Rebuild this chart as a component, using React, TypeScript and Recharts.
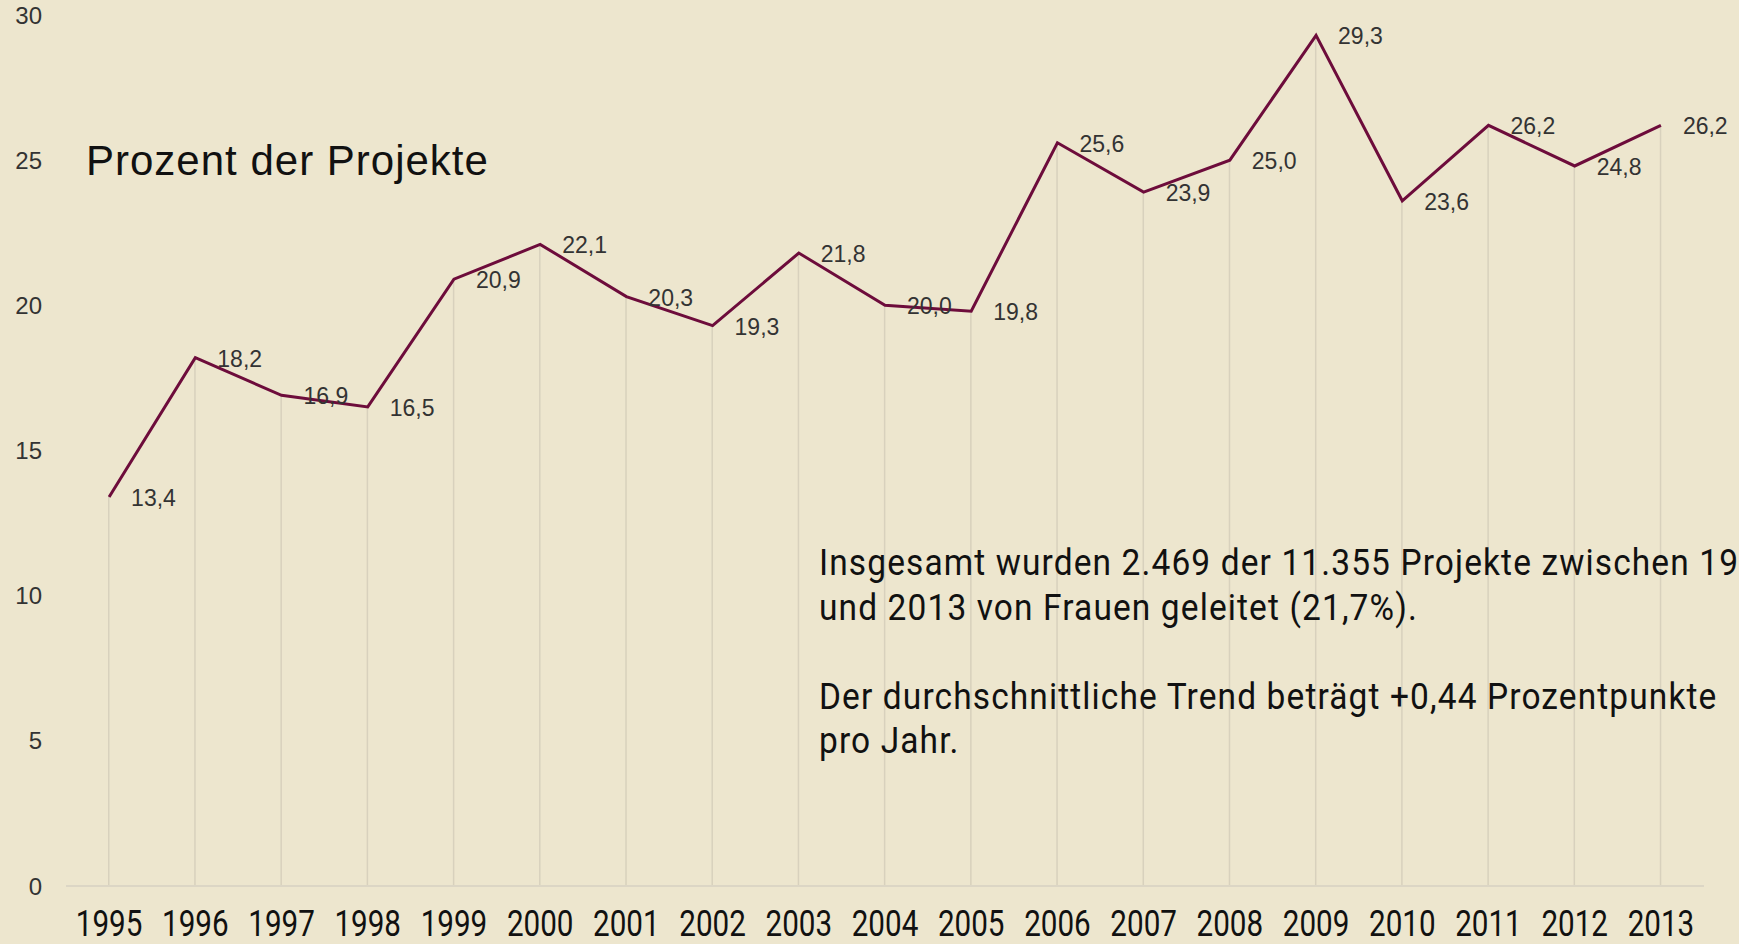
import { ComposedChart, Line, Bar, XAxis, YAxis, LabelList } from 'recharts';

const years = ['1995', '1996', '1997', '1998', '1999', '2000', '2001', '2002', '2003', '2004',
    '2005', '2006', '2007', '2008', '2009', '2010', '2011', '2012', '2013'];
const shares = [13.4, 18.2, 16.9, 16.5, 20.9, 22.1, 20.3, 19.3, 21.8, 20.0,
    19.8, 25.6, 23.9, 25.0, 29.3, 23.6, 26.2, 24.8, 26.2];
const yTicks = [0, 5, 10, 15, 20, 25, 30];

const title = 'Prozent der Projekte';
const notes = [
    'Insgesamt wurden 2.469 der 11.355 Projekte zwischen 1995',
    'und 2013 von Frauen geleitet (21,7%).',
    '',
    'Der durchschnittliche Trend beträgt +0,44 Prozentpunkte',
    'pro Jahr.',
];

const data = years.map((year, i) => ({ year, share: shares[i] }));

const BG = '#ede6ce';
const LINE = '#6d0c3b';

const fmt = (v: number) => v.toFixed(1).replace('.', ',');

const XTick = ({ x, y, payload }: any) => (
    <g transform={`translate(${x},${y})`}>
        <text transform="scale(0.8,1)" textAnchor="middle" dy="0.71em"
            fontFamily="Roboto" fontSize={37} fill="#111">
            {payload.value}
        </text>
    </g>
);

const PointLabel = ({ x, y, value }: any) => (
    <text x={x + 22} y={y + 1} dominantBaseline="central" textAnchor="start"
        fontFamily="Liberation Sans, Arial, sans-serif" fontSize={23} fill="#333">
        {fmt(value)}
    </text>
);

export default function App() {
    return (
        <div style={{ position: 'absolute', left: 0, top: 0, width: 1739, height: 944, background: BG, overflow: 'hidden' }}>
            <ComposedChart width={1739} height={944} data={data}
                margin={{ top: 15, right: 35, bottom: 0, left: 0 }}>
                <XAxis dataKey="year" height={58} tickLine={false} tickSize={0} tickMargin={24}
                    axisLine={{ stroke: '#dcd6c5', strokeWidth: 2 }} tick={<XTick />} interval={0} />
                <YAxis width={66} domain={[0, 30]} ticks={yTicks} tickLine={false} axisLine={false}
                    tickSize={0} tickMargin={24}
                    tick={{ fontFamily: 'Liberation Sans, Arial, sans-serif', fontSize: 24, fill: '#333' }} />
                <Bar dataKey="share" barSize={1.5} fill="#d8d1bd" isAnimationActive={false} />
                <Line type="linear" dataKey="share" stroke={LINE} strokeWidth={3} dot={false}
                    activeDot={false} isAnimationActive={false}>
                    <LabelList dataKey="share" content={<PointLabel />} />
                </Line>
            </ComposedChart>

            <div style={{ position: 'absolute', left: 86, top: 140, fontFamily: 'Liberation Sans, Arial, sans-serif',
                fontSize: 42, lineHeight: '42px', letterSpacing: 1, color: '#111', whiteSpace: 'nowrap' }}>
                {title}
            </div>

            <div style={{ position: 'absolute', left: 819, top: 541, fontFamily: 'Roboto, sans-serif',
                fontSize: 36, lineHeight: '44.5px', letterSpacing: 1.2, color: '#111', whiteSpace: 'nowrap',
                transform: 'scaleX(0.93)', transformOrigin: 'left top' }}>
                {notes.map((line, i) => (
                    <div key={i} style={{ height: 44.5 }}>{line}</div>
                ))}
            </div>
        </div>
    );
}
